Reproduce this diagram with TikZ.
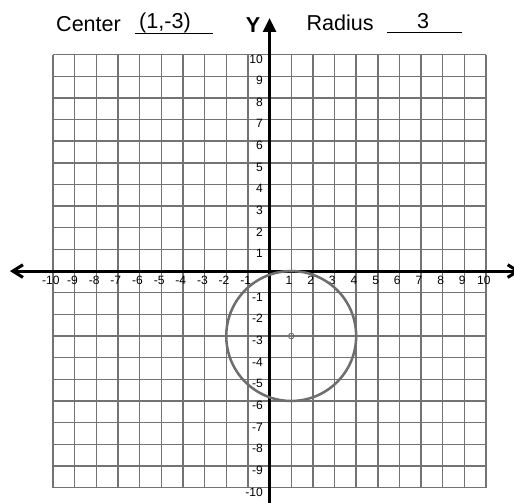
\documentclass[tikz,border=0pt]{standalone}
\usepackage{fontspec}
\setmainfont{Liberation Sans}
\usetikzlibrary{arrows.meta}
\definecolor{gridgray}{RGB}{115,115,115}
\definecolor{circgray}{RGB}{110,110,110}

\begin{document}
\begin{tikzpicture}[
  x=0.6cm, y=0.6cm,
  gridline/.style={draw=gridgray, line width=1.1pt},
  axisline/.style={draw=black, line width=2.4pt},
  circline/.style={draw=circgray, line width=2pt},
  xlab/.style={font=\fontsize{9.5}{10}\selectfont, inner sep=0pt},
  ylab/.style={font=\fontsize{9.5}{10}\selectfont, inner sep=0pt, anchor=east},
  headlbl/.style={font=\fontsize{17}{20}\selectfont, inner sep=0pt, anchor=base}
]
  \useasboundingbox (-12.45,-10.67) rectangle (11.29,12.52);

  % grid paper
  \draw[gridline, step=0.6cm] (-10,-10) grid (10,10);

  % axes
  \coordinate (xleft) at (-11.99,0);
  \coordinate (xright) at (11.6,0);
  \coordinate (ybot) at (0,-11);
  \coordinate (ytop) at (0,11.69);
  \draw[axisline, {Straight Barb[length=8pt, width=10pt]}-{Straight Barb[length=8pt, width=10pt]}] (xleft) -- (xright);
  \draw[axisline, -{Triangle[length=11pt, width=10pt]}] (ybot) -- (ytop);

  % tick numbers
  \foreach \i in {-10,-9,...,-1,1,2,...,10} {
    \node[xlab] (x\i) at (\i-0.1,-0.44) {\i};
    \node[ylab] (y\i) at (-0.3,\i-0.2) {\i};
  }

  % the circle and its centre
  \draw[circline] (1,-3) circle (3);
  \draw[circgray, line width=0.7pt] (1,-3) circle (0.13);

  % header
  \node[headlbl] (centerlbl) at (-8.36,11.05) {Center};
  \node[headlbl] (centerval) at (-4.83,11.2) {(1,-3)};
  \draw[line width=0.8pt] (-6.21,10.98) -- (-2.61,10.98);
  \node[headlbl, font=\fontsize{17}{20}\selectfont\bfseries] (ylbl) at (-0.76,11.04) {Y};
  \node[headlbl] (radiuslbl) at (3.26,11.09) {Radius};
  \node[headlbl] (radiusval) at (7.09,11.2) {3};
  \draw[line width=0.8pt] (5.43,11.0) -- (8.89,11.0);
\end{tikzpicture}
\end{document}
